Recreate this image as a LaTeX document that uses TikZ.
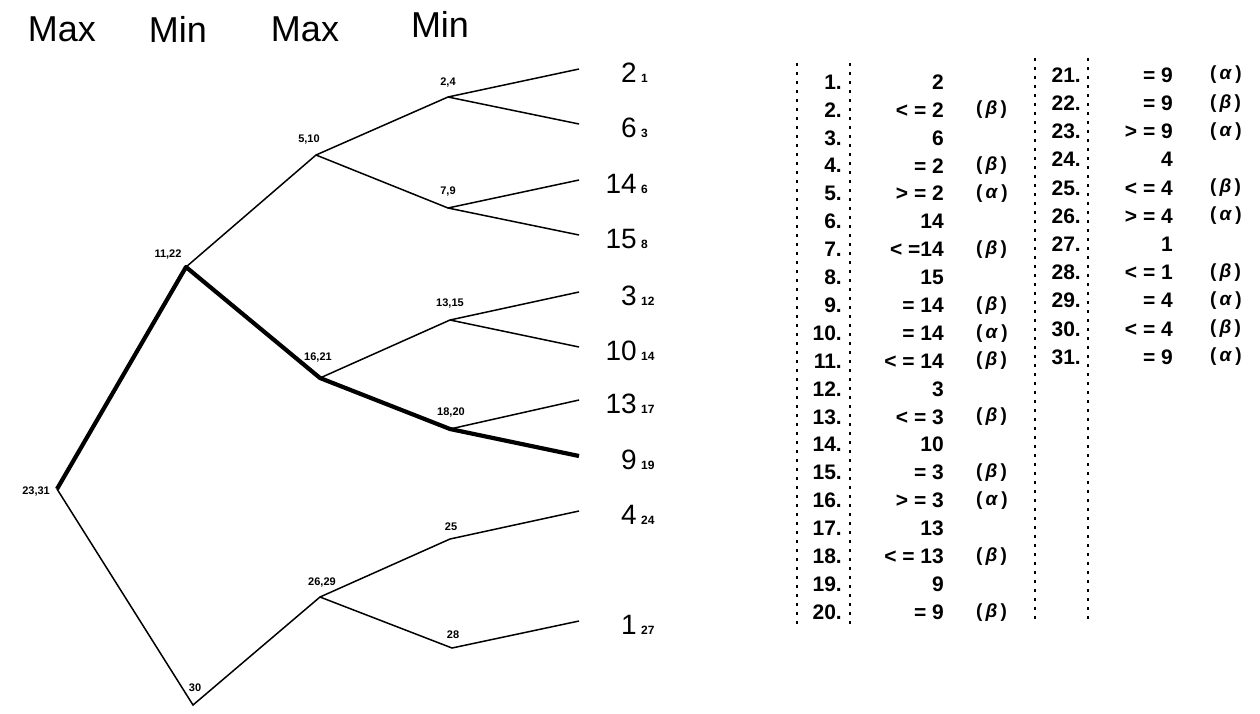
\documentclass[tikz,border=0pt]{standalone}
\usepackage{fontspec}
\setmainfont{Liberation Sans}

\begin{document}
\begin{tikzpicture}[x=1pt,y=-1pt]
	\useasboundingbox (0,0) rectangle (1260,713);
	\tikzset{edgeline/.style = {line width=1.5pt},
		bestline/.style = {line width=4.2pt, line join=round},
		lvlhead/.style = {inner sep=0pt, font=\fontsize{36}{40}\selectfont},
		vlab/.style = {inner sep=0pt, font=\bfseries\fontsize{11}{13}\selectfont},
		leafnum/.style = {anchor=east, inner sep=0pt, font=\fontsize{28}{30}\selectfont},
		leafsub/.style = {anchor=base west, inner sep=0pt, xshift=4pt, font=\bfseries\fontsize{12}{14}\selectfont},
		tabtxt/.style = {anchor=east, inner sep=0pt, font=\bfseries\fontsize{21}{24}\selectfont},
		tabgr/.style = {anchor=west, inner sep=0pt, font=\bfseries\fontsize{19}{24}\selectfont},
		dotrule/.style = {line width=1.4pt, dash pattern=on 3pt off 6pt}}
	% levels
	\node[lvlhead] (h1) at (62,29) {Max};
	\node[lvlhead] (h2) at (178,29) {Min};
	\node[lvlhead] (h3) at (305,29) {Max};
	\node[lvlhead] (h4) at (440,24) {Min};
	% tree
	\coordinate (r) at (57,489);
	\coordinate (a) at (186,267);
	\coordinate (b) at (193,705);
	\coordinate (c) at (316,155);
	\coordinate (d) at (320,378);
	\coordinate (e) at (320,597);
	\coordinate (f) at (448,97);
	\coordinate (g) at (448,208);
	\coordinate (h) at (450,320);
	\coordinate (i) at (450,429);
	\coordinate (j) at (450,539);
	\coordinate (k) at (452,648);
	\node[vlab, anchor=east] (lr) at (50,491) {23,31};
	\node[vlab] (la) at (168,255) {11,22};
	\node[vlab] (lb) at (195,688) {30};
	\node[vlab] (lc) at (309,140) {5,10};
	\node[vlab] (ld) at (318,358) {16,21};
	\node[vlab] (le) at (322,582) {26,29};
	\node[vlab] (lf) at (448,83) {2,4};
	\node[vlab] (lg) at (448,192) {7,9};
	\node[vlab] (lh) at (450,304) {13,15};
	\node[vlab] (li) at (451,413) {18,20};
	\node[vlab] (lj) at (451,527) {25};
	\node[vlab] (lk) at (453,635) {28};
	\foreach \v/\s/\y [count=\n] in {2/1/69,6/3/124,14/6/180,15/8/235,3/12/292,
		10/14/347,13/17/400,9/19/456,4/24/511,1/27/621}{
		\coordinate (l\n) at (579,\y);
		\node[leafnum] (n\n) at (637,\y+4) {\v};
		\node[leafsub] (s\n) at (n\n.base east) {\s};
	}
	\draw[edgeline] (r) -- (b) -- (e) -- (j) -- (l9);
	\draw[edgeline] (e) -- (k) -- (l10);
	\draw[edgeline] (a) -- (c) -- (f) -- (l1);
	\draw[edgeline] (f) -- (l2);
	\draw[edgeline] (c) -- (g) -- (l3);
	\draw[edgeline] (g) -- (l4);
	\draw[edgeline] (d) -- (h) -- (l5);
	\draw[edgeline] (h) -- (l6);
	\draw[edgeline] (i) -- (l7);
	\draw[bestline] (r) -- (a) -- (d) -- (i) -- (l8);
	% table
	\coordinate (t1) at (797,63);  \coordinate (b1) at (797,624);
	\coordinate (t2) at (850,63);  \coordinate (b2) at (850,624);
	\coordinate (t3) at (1035,58); \coordinate (b3) at (1035,624);
	\coordinate (t4) at (1088,58); \coordinate (b4) at (1088,624);
	\foreach \p in {1,...,4}
		\draw[dotrule] (t\p) -- (b\p);
	\foreach \val [count=\n] in {2,{< = 2},6,{= 2},{> = 2},14,{< =14},15,{= 14},{= 14},
		{< = 14},3,{< = 3},10,{= 3},{> = 3},13,{< = 13},9,{= 9}}{
		\node[tabtxt] (k\n) at (842,82+27.9*\n-27.9) {\n.};
		\node[tabtxt] (v\n) at (944,82+27.9*\n-27.9) {\val};
	}
	\foreach \val [count=\n from 21] in {{= 9},{= 9},{> = 9},4,{< = 4},{> = 4},1,{< = 1},
		{= 4},{< = 4},{= 9}}{
		\node[tabtxt] (k\n) at (1081,75+28.2*\n-592.2) {\n.};
		\node[tabtxt] (v\n) at (1173,75+28.2*\n-592.2) {\val};
	}
	\foreach \n/\gr in {2/β,4/β,5/α,7/β,9/β,10/α,11/β,13/β,15/β,16/α,18/β,20/β}
		\node[tabgr] (g\n) at (976,82+27.9*\n-27.9) {(\,\textit{\gr}\,)};
	\foreach \n/\gr in {21/α,22/β,23/α,25/β,26/α,28/β,29/α,30/β,31/α}
		\node[tabgr] (g\n) at (1210,75+28.2*\n-592.2) {(\,\textit{\gr}\,)};
\end{tikzpicture}
\end{document}
